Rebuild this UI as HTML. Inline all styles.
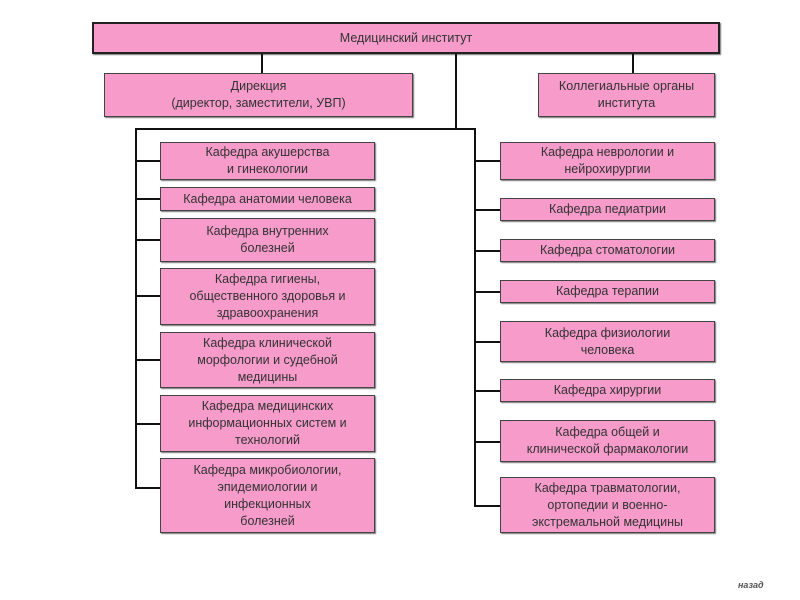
<!DOCTYPE html>
<html><head><meta charset="utf-8"><style>
body{margin:0;width:800px;height:600px;background:#fff;position:relative;overflow:hidden;font-family:"Liberation Sans",sans-serif;}
.b{position:absolute;background:#f69bca;border:1px solid #444;box-shadow:1px 1px 1px #777;display:flex;align-items:center;justify-content:center;text-align:center;font-size:12.5px;line-height:17px;color:#333;box-sizing:border-box;}
.l{position:absolute;background:#111;}
</style></head><body>
<div class="b" style="left:92px;top:22px;width:628px;height:32px;border:2px solid #222;">Медицинский институт</div>
<div class="b" style="left:104px;top:73px;width:309px;height:44px;">Дирекция<br>(директор, заместители, УВП)</div>
<div class="b" style="left:538px;top:73px;width:177px;height:44px;">Коллегиальные органы<br>института</div>
<div class="l" style="left:261px;top:54px;width:2px;height:19px"></div>
<div class="l" style="left:632px;top:54px;width:2px;height:19px"></div>
<div class="l" style="left:455px;top:54px;width:2px;height:75px"></div>
<div class="l" style="left:135px;top:128px;width:341px;height:2px"></div>
<div class="l" style="left:135px;top:128px;width:2px;height:360px"></div>
<div class="l" style="left:474px;top:128px;width:2px;height:378px"></div>
<!-- left connectors -->
<div class="l" style="left:135px;top:160px;width:25px;height:2px"></div>
<div class="l" style="left:135px;top:198px;width:25px;height:2px"></div>
<div class="l" style="left:135px;top:239px;width:25px;height:2px"></div>
<div class="l" style="left:135px;top:295px;width:25px;height:2px"></div>
<div class="l" style="left:135px;top:359px;width:25px;height:2px"></div>
<div class="l" style="left:135px;top:423px;width:25px;height:2px"></div>
<div class="l" style="left:135px;top:487px;width:25px;height:2px"></div>
<!-- right connectors -->
<div class="l" style="left:474px;top:160px;width:26px;height:2px"></div>
<div class="l" style="left:474px;top:209px;width:26px;height:2px"></div>
<div class="l" style="left:474px;top:250px;width:26px;height:2px"></div>
<div class="l" style="left:474px;top:291px;width:26px;height:2px"></div>
<div class="l" style="left:474px;top:341px;width:26px;height:2px"></div>
<div class="l" style="left:474px;top:390px;width:26px;height:2px"></div>
<div class="l" style="left:474px;top:441px;width:26px;height:2px"></div>
<div class="l" style="left:474px;top:505px;width:26px;height:2px"></div>
<!-- left boxes -->
<div class="b" style="left:160px;top:142px;width:215px;height:38px;">Кафедра акушерства<br>и гинекологии</div>
<div class="b" style="left:160px;top:187px;width:215px;height:24px;">Кафедра анатомии человека</div>
<div class="b" style="left:160px;top:218px;width:215px;height:44px;">Кафедра внутренних<br>болезней</div>
<div class="b" style="left:160px;top:268px;width:215px;height:57px;">Кафедра гигиены,<br>общественного здоровья и<br>здравоохранения</div>
<div class="b" style="left:160px;top:332px;width:215px;height:56px;">Кафедра клинической<br>морфологии и судебной<br>медицины</div>
<div class="b" style="left:160px;top:395px;width:215px;height:57px;">Кафедра медицинских<br>информационных систем и<br>технологий</div>
<div class="b" style="left:160px;top:458px;width:215px;height:75px;">Кафедра микробиологии,<br>эпидемиологии и<br>инфекционных<br>болезней</div>
<!-- right boxes -->
<div class="b" style="left:500px;top:142px;width:215px;height:38px;">Кафедра неврологии и<br>нейрохирургии</div>
<div class="b" style="left:500px;top:198px;width:215px;height:23px;">Кафедра педиатрии</div>
<div class="b" style="left:500px;top:239px;width:215px;height:23px;">Кафедра стоматологии</div>
<div class="b" style="left:500px;top:280px;width:215px;height:23px;">Кафедра терапии</div>
<div class="b" style="left:500px;top:321px;width:215px;height:41px;">Кафедра физиологии<br>человека</div>
<div class="b" style="left:500px;top:379px;width:215px;height:23px;">Кафедра хирургии</div>
<div class="b" style="left:500px;top:420px;width:215px;height:42px;">Кафедра общей и<br>клинической фармакологии</div>
<div class="b" style="left:500px;top:477px;width:215px;height:56px;">Кафедра травматологии,<br>ортопедии и военно-<br>экстремальной медицины</div>
<div style="position:absolute;left:738px;top:580px;font-size:9px;font-style:italic;font-weight:bold;color:#555;">назад</div>
</body></html>
